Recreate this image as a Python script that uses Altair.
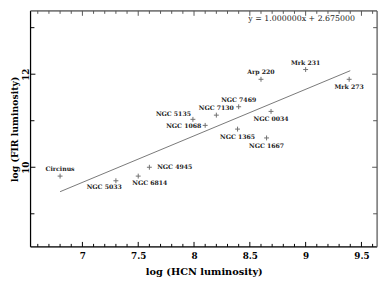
import altair as alt
import pandas as pd

# ---- data ----
names = ["Circinus", "NGC 5033", "NGC 6814", "NGC 4945", "NGC 1068", "NGC 5135",
         "NGC 7130", "NGC 7469", "NGC 0034", "NGC 1365", "NGC 1667", "Arp 220",
         "Mrk 231", "Mrk 273"]
log_hcn = [6.80, 7.30, 7.50, 7.60, 8.10, 7.99, 8.20, 8.40, 8.69, 8.39, 8.65, 8.60, 9.00, 9.39]
log_fir = [9.81, 9.71, 9.81, 10.00, 10.90, 11.03, 11.12, 11.30, 11.20, 10.82, 10.63, 11.89, 12.10, 11.89]
label_pos = ["above", "belowleft", "belowright", "right", "left", "aboveleft",
             "above", "above", "below", "below", "below", "above", "above", "below"]

fit_x = [6.80, 9.40]
fit_y = [9.475, 12.075]
equation = "y  =  1.000000x  +  2.675000"

x_tick_labels = [7, 7.5, 8, 8.5, 9, 9.5]
x_minor_ticks = [6.6, 6.7, 6.8, 6.9, 7.1, 7.2, 7.3, 7.4, 7.6, 7.7, 7.8, 7.9, 8.1, 8.2,
                 8.3, 8.4, 8.6, 8.7, 8.8, 8.9, 9.1, 9.2, 9.3, 9.4, 9.6]
y_tick_labels = [10, 12]
y_minor_ticks = [9, 11, 13]

# ---- layout ----
W, H = 354, 241
XD = [6.535, 9.64]
YD = [8.29, 13.36]
FONT = "DejaVu Serif"

df = pd.DataFrame({"name": names, "x": log_hcn, "y": log_fir, "pos": label_pos})
fit_df = pd.DataFrame({"x": fit_x, "y": fit_y})

xs = alt.Scale(domain=XD, nice=False, zero=False)
ys = alt.Scale(domain=YD, nice=False, zero=False)

xaxis = alt.Axis(values=x_tick_labels, format="~g", title="log (HCN luminosity)",
                 ticks=False, domain=False, grid=False,
                 labelFont=FONT, labelFontSize=9, labelFontWeight="bold", labelColor="black",
                 labelPadding=5,
                 titleFont=FONT, titleFontSize=10, titleFontWeight="bold", titleColor="black",
                 titlePadding=6)
yaxis = alt.Axis(values=y_tick_labels, format="~g", title="log (FIR luminosity)",
                 ticks=False, domain=False, grid=False,
                 labelFont=FONT, labelFontSize=9, labelFontWeight="bold", labelColor="black",
                 labelAngle=270, labelAlign="center", labelBaseline="bottom", labelPadding=0,
                 titleFont=FONT, titleFontSize=9.5, titleFontWeight="bold", titleColor="black",
                 titleX=-16.5, titleBaseline="middle")

points = alt.Chart(df).mark_point(
    shape="M-1,0L1,0M0,-1L0,1", size=25, filled=False, strokeWidth=1, color="#333"
).encode(x=alt.X("x:Q", scale=xs, axis=xaxis), y=alt.Y("y:Q", scale=ys, axis=yaxis))

fit = alt.Chart(fit_df).mark_line(color="#777", strokeWidth=1).encode(
    x=alt.X("x:Q", scale=xs), y=alt.Y("y:Q", scale=ys))

pos_style = {
    "above": ("center", 0, -7),
    "below": ("center", 0, 8),
    "belowleft": ("right", 6, 6),
    "belowright": ("left", -6, 7),
    "right": ("left", 8, 0),
    "left": ("right", -4, 1),
    "aboveleft": ("right", -2, -5),
}
label_layers = []
for p, (al, dx, dy) in pos_style.items():
    label_layers.append(
        alt.Chart(df).transform_filter(alt.datum.pos == p).mark_text(
            font=FONT, fontSize=6.3, fontWeight="bold", color="#222",
            align=al, baseline="middle", dx=dx, dy=dy
        ).encode(x=alt.X("x:Q", scale=xs), y=alt.Y("y:Q", scale=ys), text="name:N")
    )

eq = alt.Chart(pd.DataFrame({"t": [equation]})).mark_text(
    font=FONT, fontSize=8, color="#222", align="center", baseline="middle"
).encode(x=alt.value(277), y=alt.value(8), text="t:N")

# inward ticks
xt_minor = pd.DataFrame({"t": x_minor_ticks})
xt_major = pd.DataFrame({"t": x_tick_labels})
yt_minor = pd.DataFrame({"t": y_minor_ticks})
yt_major = pd.DataFrame({"t": y_tick_labels})

def xticks(d, L, color):
    bot = alt.Chart(d).mark_rule(color="black", strokeWidth=1).encode(
        x=alt.X("t:Q", scale=xs), y=alt.value(H), y2=alt.value(H - L))
    top = alt.Chart(d).mark_rule(color=color, strokeWidth=1).encode(
        x=alt.X("t:Q", scale=xs), y=alt.value(0), y2=alt.value(L))
    return [bot, top]

def yticks(d, L, color):
    left = alt.Chart(d).mark_rule(color="black", strokeWidth=1).encode(
        y=alt.Y("t:Q", scale=ys), x=alt.value(0), x2=alt.value(L))
    right = alt.Chart(d).mark_rule(color=color, strokeWidth=1).encode(
        y=alt.Y("t:Q", scale=ys), x=alt.value(W), x2=alt.value(W - L))
    return [left, right]

one = pd.DataFrame({"a": [0]})
frame = [
    alt.Chart(one).mark_rule(color="black", strokeWidth=1.2).encode(
        x=alt.value(0), y=alt.value(0), y2=alt.value(H)),
    alt.Chart(one).mark_rule(color="black", strokeWidth=1.2).encode(
        x=alt.value(0), x2=alt.value(W), y=alt.value(H)),
    alt.Chart(one).mark_rule(color="#555", strokeWidth=1.2).encode(
        x=alt.value(W), y=alt.value(0), y2=alt.value(H)),
    alt.Chart(one).mark_rule(color="#555", strokeWidth=1.2).encode(
        x=alt.value(0), x2=alt.value(W), y=alt.value(0)),
]

layers = ([points, fit] + label_layers + [eq]
          + xticks(xt_minor, 3, "#555") + xticks(xt_major, 5, "#555")
          + yticks(yt_minor, 4, "#555") + yticks(yt_major, 5, "#555") + frame)

chart = alt.layer(*layers).properties(
    width=W, height=H,
    autosize=alt.AutoSizeParams(type="none"),
    padding={"left": 23, "top": 0, "right": 3, "bottom": 35},
).configure_view(stroke=None).configure(background="white")

chart.save("out.html", embed_options={"renderer": "svg", "actions": False})
